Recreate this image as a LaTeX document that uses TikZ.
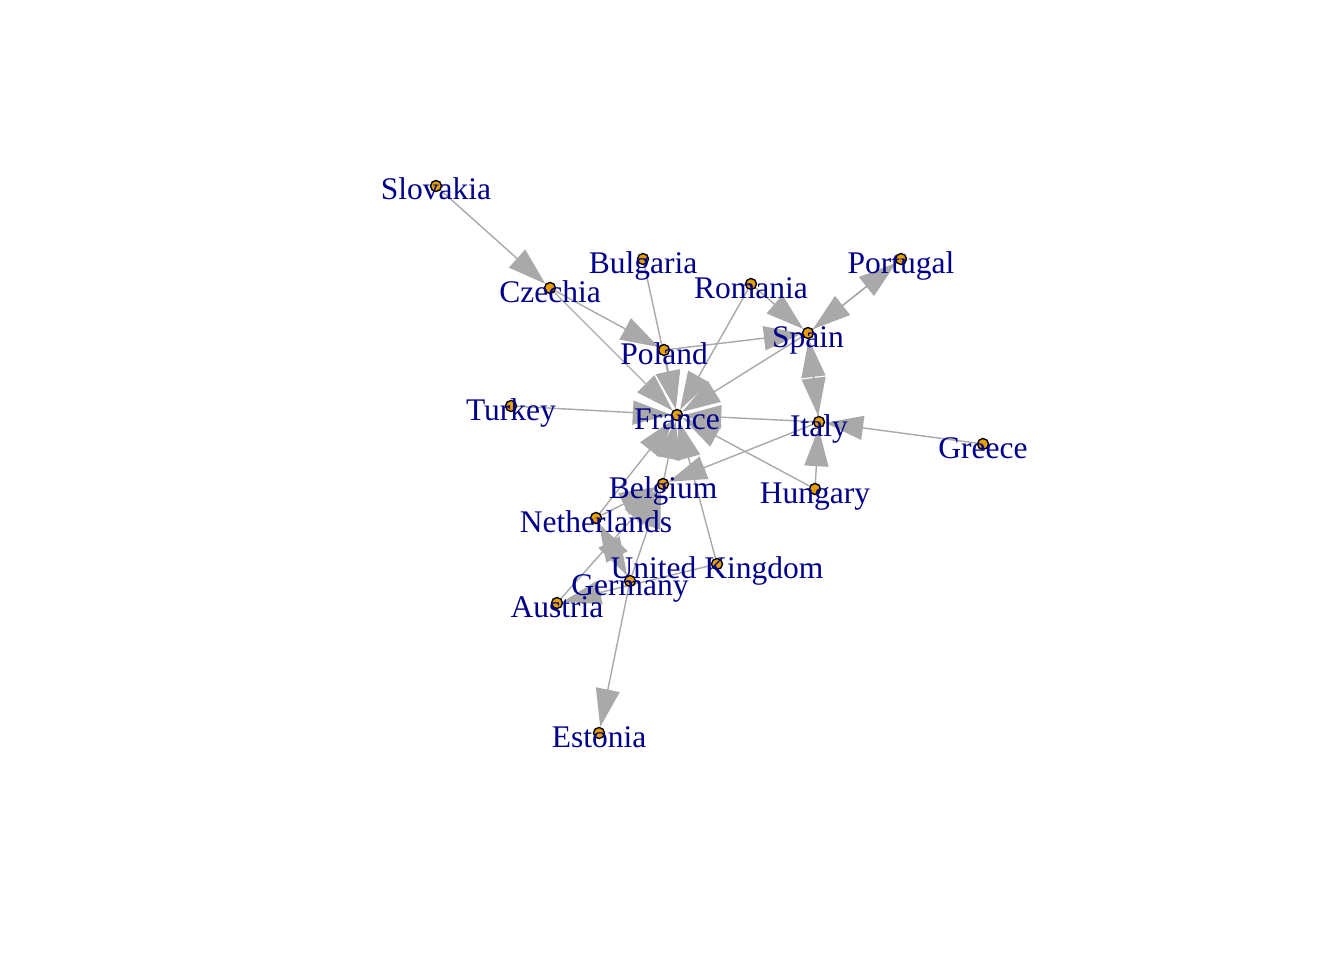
\documentclass[tikz,border=0pt]{standalone}
\usepackage{fontspec}
\setmainfont{Liberation Serif}
\usetikzlibrary{arrows.meta}
\pgfdeclarelayer{bg}
\pgfdeclarelayer{edges}
\pgfsetlayers{bg,edges,main}
\definecolor{edgegray}{RGB}{169,169,169}
\definecolor{vtxorange}{RGB}{230,159,0}
\definecolor{labblue}{RGB}{0,0,139}
\tikzset{
  vtx/.style={circle, draw=black, line width=1.4pt, fill=vtxorange, minimum size=11pt, inner sep=0pt},
  lab/.style={anchor=base, text=labblue, inner sep=0pt, font=\fontsize{31.5}{37}\selectfont},
  edge/.style={draw=edgegray, line width=1.4pt, -{Triangle[length=38pt,width=24pt]}},
}
\begin{document}
\begin{tikzpicture}[x=1pt,y=-1pt]
\begin{pgfonlayer}{bg}
\fill[white] (0,0) rectangle (1344,960);
\end{pgfonlayer}
\useasboundingbox (0,0) rectangle (1344,960);
% vertices
\node[vtx] (SK) at (436,186) {};
\node[vtx] (CZ) at (550,288) {};
\node[vtx] (BG) at (643,259) {};
\node[vtx] (RO) at (751,284) {};
\node[vtx] (PT) at (901,259) {};
\node[vtx] (ES) at (808,333) {};
\node[vtx] (PL) at (664,350) {};
\node[vtx] (TR) at (511,406) {};
\node[vtx] (FR) at (677,415) {};
\node[vtx] (IT) at (819,422) {};
\node[vtx] (GR) at (983,444) {};
\node[vtx] (BE) at (663,484) {};
\node[vtx] (HU) at (815,489) {};
\node[vtx] (NL) at (596,518) {};
\node[vtx] (UK) at (717,564) {};
\node[vtx] (DE) at (630,581) {};
\node[vtx] (AT) at (557,603) {};
\node[vtx] (EE) at (599,733) {};
% edges
\begin{pgfonlayer}{edges}
\draw[edge] (SK) -- (CZ);
\draw[edge] (CZ) -- (PL);
\draw[edge] (CZ) -- (FR);
\draw[edge] (BG) -- (FR);
\draw[edge] (RO) -- (FR);
\draw[edge] (RO) -- (ES);
\draw[edge] (PL) -- (ES);
\draw[edge] (PL) -- (FR);
\draw[edge] (PT) -- (ES);
\draw[edge] (ES) -- (PT);
\draw[edge] (ES) -- (IT);
\draw[edge] (IT) -- (ES);
\draw[edge] (ES) -- (FR);
\draw[edge] (TR) -- (FR);
\draw[edge] (IT) -- (FR);
\draw[edge] (GR) -- (IT);
\draw[edge] (HU) -- (IT);
\draw[edge] (HU) -- (FR);
\draw[edge] (IT) -- (BE);
\draw[edge] (BE) -- (FR);
\draw[edge] (NL) -- (FR);
\draw[edge] (NL) -- (BE);
\draw[edge] (NL) -- (DE);
\draw[edge] (DE) -- (NL);
\draw[edge] (DE) -- (BE);
\draw[edge] (UK) -- (FR);
\draw[edge] (UK) -- (AT);
\draw[edge] (AT) -- (BE);
\draw[edge] (DE) -- (EE);
\end{pgfonlayer}
% labels
\node[lab] (lSK) at (436,200) {Slovakia};
\node[lab] (lCZ) at (550,302) {Czechia};
\node[lab] (lBG) at (643,273) {Bulgaria};
\node[lab] (lRO) at (751,298) {Romania};
\node[lab] (lPT) at (901,273) {Portugal};
\node[lab] (lES) at (808,347) {Spain};
\node[lab] (lPL) at (664,364) {Poland};
\node[lab] (lTR) at (511,420) {Turkey};
\node[lab] (lFR) at (677,429) {France};
\node[lab] (lIT) at (819,436) {Italy};
\node[lab] (lGR) at (983,458) {Greece};
\node[lab] (lBE) at (663,498) {Belgium};
\node[lab] (lHU) at (815,503) {Hungary};
\node[lab] (lNL) at (596,532) {Netherlands};
\node[lab] (lUK) at (717,578) {United Kingdom};
\node[lab] (lDE) at (630,595) {Germany};
\node[lab] (lAT) at (557,617) {Austria};
\node[lab] (lEE) at (599,747) {Estonia};
\end{tikzpicture}
\end{document}
